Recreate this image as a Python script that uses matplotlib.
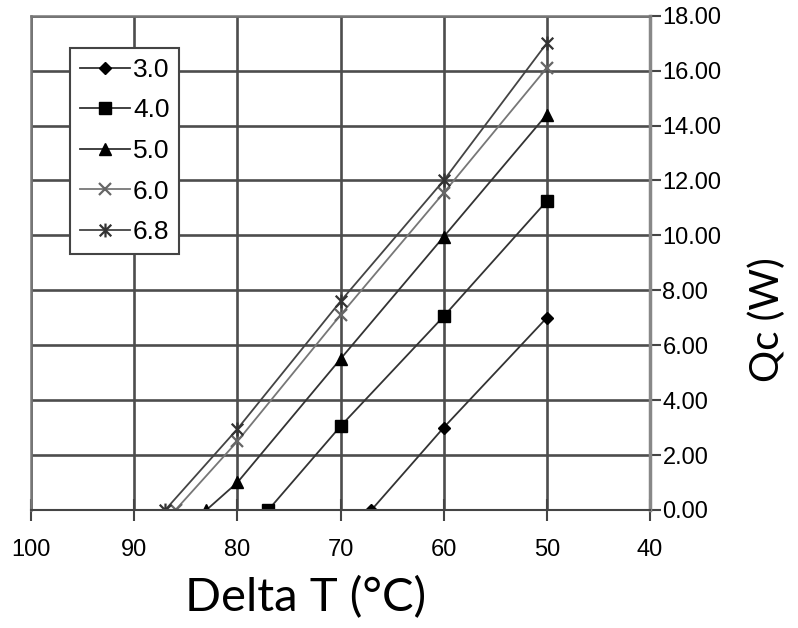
import matplotlib.pyplot as plt
from matplotlib.path import Path

# Data
dt_30 = [67, 60, 50]
qc_30 = [0, 3.0, 7.0]
dt_40 = [77, 70, 60, 50]
qc_40 = [0, 3.05, 7.05, 11.25]
dt_50 = [83, 80, 70, 60, 50]
qc_50 = [0, 1.0, 5.5, 9.95, 14.4]
dt_60 = [86, 80, 70, 60, 50]
qc_60 = [0, 2.5, 7.1, 11.55, 16.1]
dt_68 = [87, 80, 70, 60, 50]
qc_68 = [0, 2.95, 7.6, 12.0, 17.0]
labels = ["3.0", "4.0", "5.0", "6.0", "6.8"]

x_ticks = [100, 90, 80, 70, 60, 50, 40]
y_ticks = [0, 2, 4, 6, 8, 10, 12, 14, 16, 18]

# Excel-style star marker: X with a vertical bar
star = Path([(-1, -1), (1, 1), (-1, 1), (1, -1), (0, -1.2), (0, 1.2)],
            [Path.MOVETO, Path.LINETO, Path.MOVETO, Path.LINETO, Path.MOVETO, Path.LINETO])

plt.rcParams['font.family'] = ['Liberation Sans', 'DejaVu Sans']

fig = plt.figure(figsize=(7.98, 6.28), dpi=100)
ax = fig.add_axes([0.039, 0.188, 0.7755, 0.787])

ax.plot(dt_30, qc_30, color='#333333', lw=1.3, marker='D', ms=6, mfc='black', mec='black', label=labels[0])
ax.plot(dt_40, qc_40, color='#333333', lw=1.3, marker='s', ms=8, mfc='black', mec='black', label=labels[1])
ax.plot(dt_50, qc_50, color='#333333', lw=1.3, marker='^', ms=8, mfc='black', mec='black', label=labels[2])
ax.plot(dt_60, qc_60, color='#777777', lw=1.3, marker='x', ms=9, mew=1.6, mec='#666666', label=labels[3])
ax.plot(dt_68, qc_68, color='#444444', lw=1.3, marker=star, ms=10, mew=1.6, mec='#333333', label=labels[4])

ax.set_xlim(100, 40)
ax.set_ylim(0, 18)
ax.set_xticks(x_ticks)
ax.set_yticks(y_ticks)
ax.set_yticklabels([f"{v:.2f}" for v in y_ticks])

ax.grid(True, color='#4d4d4d', lw=1.9)
ax.set_axisbelow(True)
for side in ['left', 'top']:
    ax.spines[side].set_color('#777777')
    ax.spines[side].set_linewidth(1.8)
ax.spines['bottom'].set_position(('data', 0))
ax.spines['bottom'].set_color('#444444')
ax.spines['bottom'].set_linewidth(1.5)
ax.spines['right'].set_color('#888888')
ax.spines['right'].set_linewidth(2.5)

ax.yaxis.tick_right()
ax.yaxis.set_label_position('right')
ax.tick_params(axis='x', direction='inout', length=16, width=1.5, color='#444444',
               labelsize=17, pad=13)
ax.tick_params(axis='y', direction='out', length=8, width=1.5, color='#444444',
               labelsize=17, pad=1)

ax.set_xlabel("Delta T (°C)", fontsize=34, family='Lato', va='center')
ax.xaxis.set_label_coords(0.443, -0.178)
ax.set_ylabel("Qc (W)", fontsize=29, family='Lato', va='center', ha='center')
ax.yaxis.set_label_coords(1.19, 0.385)

leg = ax.legend(loc='upper left', bbox_to_anchor=(0.063, 0.935), fontsize=19,
                frameon=True, fancybox=False, edgecolor='#444444', framealpha=1,
                handlelength=1.9, handletextpad=0.1, labelspacing=0.63,
                borderpad=0.38, borderaxespad=0)
leg.get_frame().set_linewidth(1.5)

fig.savefig("out.png", dpi=100)
